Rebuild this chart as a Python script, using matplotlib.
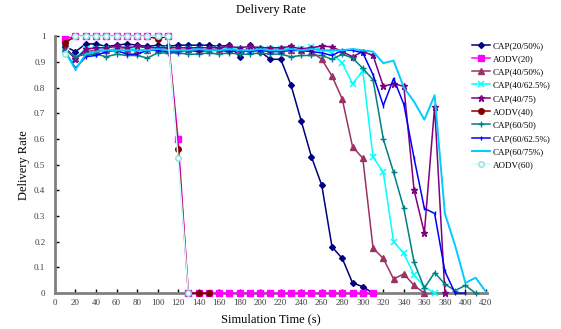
import matplotlib.pyplot as plt

plt.rcParams['font.family'] = ['Liberation Serif', 'DejaVu Serif']

# time axis values (s) for each series
t_cap20_50 = list(range(10, 320, 10))
t_aodv20 = list(range(10, 320, 10))
t_cap40_50 = list(range(10, 370, 10))
t_cap40_625 = list(range(10, 380, 10))
t_cap40_75 = list(range(10, 390, 10))
t_aodv40 = list(range(10, 160, 10))
t_cap60_50 = list(range(10, 420, 10))
t_cap60_625 = list(range(10, 410, 10))
t_cap60_75 = list(range(10, 430, 10))
t_aodv60 = list(range(10, 140, 10))

cap20_50 = [0.96, 0.94, 0.97, 0.97, 0.96, 0.965, 0.97, 0.965, 0.96, 0.965,
            0.96, 0.965, 0.965, 0.965, 0.965, 0.96, 0.965, 0.92, 0.965, 0.94,
            0.91, 0.91, 0.81, 0.67, 0.53, 0.42, 0.18, 0.135, 0.04, 0.025, 0.0]
aodv20 = [0.99] + [1.0] * 10 + [0.6] + [0.0] * 19
cap40_50 = [0.955, 0.915, 0.94, 0.945, 0.945, 0.95, 0.95, 0.945, 0.945, 0.95,
            0.945, 0.945, 0.95, 0.945, 0.945, 0.95, 0.945, 0.945, 0.945, 0.945,
            0.945, 0.945, 0.945, 0.945, 0.94, 0.91, 0.845, 0.755, 0.57, 0.525,
            0.175, 0.135, 0.055, 0.075, 0.03, 0.0]
cap40_625 = [0.945, 0.915, 0.95, 0.95, 0.95, 0.945, 0.95, 0.95, 0.945, 0.95,
             0.95, 0.945, 0.95, 0.95, 0.945, 0.95, 0.95, 0.95, 0.945, 0.95,
             0.95, 0.95, 0.95, 0.95, 0.958, 0.95, 0.935, 0.895, 0.815, 0.865,
             0.53, 0.47, 0.2, 0.155, 0.07, 0.025, 0.0]
cap40_75 = [0.955, 0.91, 0.95, 0.955, 0.955, 0.96, 0.955, 0.96, 0.955, 0.955,
            0.955, 0.955, 0.955, 0.955, 0.955, 0.955, 0.96, 0.955, 0.96, 0.955,
            0.955, 0.955, 0.96, 0.95, 0.955, 0.962, 0.958, 0.94, 0.92, 0.94,
            0.925, 0.805, 0.815, 0.805, 0.4, 0.235, 0.725, 0.0]
aodv40 = [0.975, 1.0, 1.0, 1.0, 1.0, 1.0, 1.0, 1.0, 1.0, 0.99, 1.0, 0.56, 0.0, 0.0, 0.0]
cap60_50 = [0.945, 0.92, 0.93, 0.93, 0.92, 0.93, 0.925, 0.925, 0.915, 0.935,
            0.935, 0.935, 0.93, 0.93, 0.935, 0.93, 0.935, 0.93, 0.93, 0.935,
            0.93, 0.93, 0.92, 0.925, 0.925, 0.925, 0.91, 0.93, 0.915, 0.875,
            0.83, 0.6, 0.47, 0.33, 0.12, 0.02, 0.08, 0.035, 0.01, 0.03, 0.0]
cap60_625 = [0.94, 0.875, 0.92, 0.925, 0.94, 0.945, 0.93, 0.93, 0.945, 0.945,
             0.94, 0.94, 0.945, 0.94, 0.945, 0.945, 0.94, 0.945, 0.94, 0.945,
             0.94, 0.94, 0.945, 0.945, 0.94, 0.935, 0.925, 0.945, 0.945, 0.935,
             0.85, 0.73, 0.835, 0.735, 0.525, 0.33, 0.31, 0.085, 0.0, 0.0]
cap60_75 = [0.94, 0.87, 0.93, 0.94, 0.945, 0.945, 0.945, 0.945, 0.945, 0.95,
            0.945, 0.945, 0.945, 0.95, 0.945, 0.945, 0.95, 0.945, 0.945, 0.95,
            0.945, 0.945, 0.95, 0.945, 0.95, 0.945, 0.945, 0.945, 0.95, 0.945,
            0.94, 0.895, 0.905, 0.8, 0.745, 0.675, 0.77, 0.31, 0.185, 0.04,
            0.06, 0.005]
aodv60 = [0.93] + [1.0] * 10 + [0.525, 0.0]

labels = ['CAP(20/50%)', 'AODV(20)', 'CAP(40/50%)', 'CAP(40/62.5%)', 'CAP(40/75)',
          'AODV(40)', 'CAP(60/50)', 'CAP(60/62.5%)', 'CAP(60/75%)', 'AODV(60)']

fig = plt.figure(figsize=(5.61, 3.29), dpi=100)
ax = fig.add_axes([0.098, 0.109, 0.77, 0.781])

kw = dict(clip_on=False, lw=1.1, zorder=3)
ax.plot(t_cap20_50, cap20_50, color='#000080', marker='D', ms=3, label=labels[0], **kw)
ax.plot(t_aodv20, aodv20, color='#ff00ff', marker='s', ms=4.5, label=labels[1], **kw)
ax.plot(t_cap40_50, cap40_50, color='#993366', marker='^', ms=4, label=labels[2], **kw)
ax.plot(t_cap40_625, cap40_625, color='#00ffff', marker='x', ms=4, mew=1.1, label=labels[3], **kw)
ax.plot(t_cap40_75, cap40_75, color='#800080', marker='*', ms=5, label=labels[4], **kw)
ax.plot(t_aodv40, aodv40, color='#800000', marker='o', ms=4, label=labels[5], **kw)
ax.plot(t_cap60_50, cap60_50, color='#008080', marker='+', ms=5, mew=1.0, label=labels[6], **kw)
ax.plot(t_cap60_625, cap60_625, color='#0000ff', marker='|', ms=3, label=labels[7], **kw)
ax.plot(t_cap60_75, cap60_75, color='#00ccff', label=labels[8], clip_on=False, lw=1.4, zorder=3)
ax.plot(t_aodv60, aodv60, color='#ccffff', marker='o', ms=4, mfc='#e6ffff', mec='#99dddd',
        label=labels[9], **kw)

ax.set_xlim(0, 421)
ax.set_ylim(0, 1.0)
ax.set_xticks(range(0, 421, 20))
ax.set_yticks([i / 10 for i in range(11)])
ax.set_yticklabels(['0', '0.1', '0.2', '0.3', '0.4', '0.5', '0.6', '0.7', '0.8', '0.9', '1'])
ax.tick_params(direction='in', length=3, width=1, labelsize=6.5, labelcolor='#404040')
ax.tick_params(axis='y', pad=7)
ax.tick_params(axis='x', pad=4)

for s in ['top', 'right']:
    ax.spines[s].set_visible(False)
for s in ['left', 'bottom']:
    ax.spines[s].set_color('#808080')
    ax.spines[s].set_linewidth(2)

ax.set_title('Delivery Rate', fontsize=9, pad=17)
ax.set_xlabel('Simulation Time (s)', fontsize=9, labelpad=5)
ax.set_ylabel('Delivery Rate', fontsize=9, labelpad=3)

fig.legend(loc='upper left', bbox_to_anchor=(0.835, 0.885), frameon=False, fontsize=6.5,
           handlelength=2.0, labelspacing=0.55, handletextpad=0.3, borderaxespad=0)

fig.savefig('out.png', dpi=100)
